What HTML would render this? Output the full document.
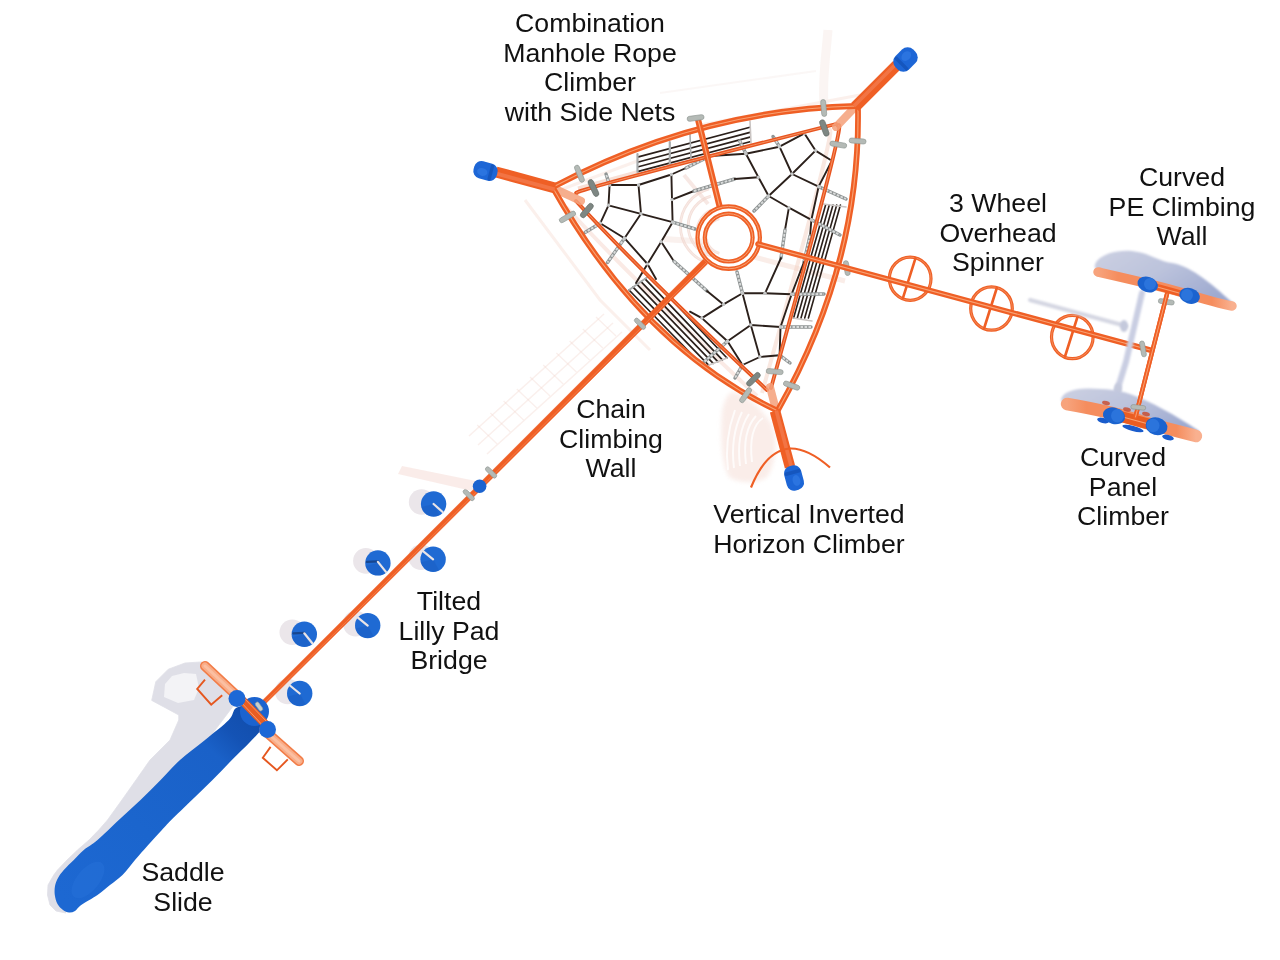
<!DOCTYPE html>
<html><head><meta charset="utf-8"><style>
html,body{margin:0;padding:0;background:#fff}
body{width:1280px;height:960px;position:relative;overflow:hidden}
svg{position:absolute;left:0;top:0}
.l{position:absolute;width:300px;will-change:transform;text-align:center;font-family:"Liberation Sans",sans-serif;font-size:26.7px;line-height:29.6px;color:#111}
</style></head><body>
<svg width="1280" height="960" viewBox="0 0 1280 960">
<defs>
<filter id="blur0" x="-20%" y="-20%" width="140%" height="140%"><feGaussianBlur stdDeviation="0.6"/></filter>
<filter id="blur1" x="-20%" y="-20%" width="140%" height="140%"><feGaussianBlur stdDeviation="1.2"/></filter>
<filter id="blur2" x="-20%" y="-20%" width="140%" height="140%"><feGaussianBlur stdDeviation="2"/></filter>
<linearGradient id="slideg" gradientUnits="userSpaceOnUse" x1="250" y1="715" x2="70" y2="905"><stop offset="0" stop-color="#124ead"/><stop offset="0.1" stop-color="#1453b5"/><stop offset="0.2" stop-color="#1a61c8"/><stop offset="0.6" stop-color="#1b65cd"/><stop offset="1" stop-color="#1d68d2"/></linearGradient>
<linearGradient id="wallsh" x1="0" y1="0" x2="1" y2="0.6"><stop offset="0" stop-color="#ccd0e2"/><stop offset="0.5" stop-color="#bcc3dc"/><stop offset="1" stop-color="#9eaad0"/></linearGradient>
<linearGradient id="wallg" x1="0" y1="0" x2="1" y2="0"><stop offset="0" stop-color="#f7a37c"/><stop offset="0.15" stop-color="#f58d5e"/><stop offset="0.85" stop-color="#f58d5e"/><stop offset="1" stop-color="#f9b08f"/></linearGradient>
</defs><path d="M525,200 L600,300 L650,350" fill="none" stroke="#f8e6e0" stroke-width="3" opacity="0.6"/>
<path d="M640,160 L560,190" fill="none" stroke="#f8e6e0" stroke-width="3" opacity="0.6"/>
<path d="M700,125 L860,95" fill="none" stroke="#f8e6e0" stroke-width="3" opacity="0.6"/>
<path d="M709.0,188.8 A38.5,38.5 0 0,0 709.0,263.2" fill="none" stroke="#eccbc1" stroke-width="2.8" opacity="0.6"/>
<path d="M709.0,188.8 A38.5,38.5 0 0,0 709.0,263.2" fill="none" stroke="#fbf1ee" stroke-width="0.8" opacity="0.8"/>
<path d="M711.0,196.1 A31,31 0 0,0 711.0,255.9" fill="none" stroke="#eccbc1" stroke-width="2.8" opacity="0.6"/>
<path d="M711.0,196.1 A31,31 0 0,0 711.0,255.9" fill="none" stroke="#fbf1ee" stroke-width="0.8" opacity="0.8"/>
<path d="M714.8,208.8 A24,24 0 0,0 714.8,255.2" fill="none" stroke="#eccbc1" stroke-width="2.8" opacity="0.6"/>
<path d="M714.8,208.8 A24,24 0 0,0 714.8,255.2" fill="none" stroke="#fbf1ee" stroke-width="0.8" opacity="0.8"/>
<path d="M719.3,218.6 A18,18 0 0,0 719.3,253.4" fill="none" stroke="#eccbc1" stroke-width="2.8" opacity="0.6"/>
<path d="M719.3,218.6 A18,18 0 0,0 719.3,253.4" fill="none" stroke="#fbf1ee" stroke-width="0.8" opacity="0.8"/>
<path d="M684,175 L708,204" stroke="#f0d3ca" stroke-width="4" opacity="0.5"/>
<path d="M664,239 L708,242" stroke="#f2d8d0" stroke-width="6" opacity="0.35"/>
<path d="M829,131 Q840,114 762,393" fill="none" stroke="#f2cbbd" stroke-width="4" opacity="0.45"/>
<path d="M754,257 L845,281" fill="none" stroke="#f2cbbd" stroke-width="5" opacity="0.35"/>
<path d="M566,207 Q632,279 757,396" fill="none" stroke="#f2cbbd" stroke-width="4" opacity="0.4"/>
<path d="M578,188.5 L640,171.5" fill="none" stroke="#f2cbbd" stroke-width="4" opacity="0.6"/>
<line x1="622" y1="332" x2="487" y2="454" stroke="#f1d3ca" stroke-width="1.5" opacity="0.35"/>
<line x1="613" y1="323" x2="478" y2="445" stroke="#f1d3ca" stroke-width="1.5" opacity="0.35"/>
<line x1="604" y1="314" x2="469" y2="436" stroke="#f1d3ca" stroke-width="1.5" opacity="0.35"/>
<line x1="616.0" y1="336" x2="596.0" y2="317" stroke="#f1d3ca" stroke-width="1.3" opacity="0.35"/>
<line x1="602.8" y1="348" x2="582.8" y2="329" stroke="#f1d3ca" stroke-width="1.3" opacity="0.35"/>
<line x1="589.6" y1="360" x2="569.6" y2="341" stroke="#f1d3ca" stroke-width="1.3" opacity="0.35"/>
<line x1="576.4" y1="372" x2="556.4" y2="353" stroke="#f1d3ca" stroke-width="1.3" opacity="0.35"/>
<line x1="563.2" y1="384" x2="543.2" y2="365" stroke="#f1d3ca" stroke-width="1.3" opacity="0.35"/>
<line x1="550.0" y1="396" x2="530.0" y2="377" stroke="#f1d3ca" stroke-width="1.3" opacity="0.35"/>
<line x1="536.8" y1="408" x2="516.8" y2="389" stroke="#f1d3ca" stroke-width="1.3" opacity="0.35"/>
<line x1="523.6" y1="420" x2="503.6" y2="401" stroke="#f1d3ca" stroke-width="1.3" opacity="0.35"/>
<line x1="510.4" y1="432" x2="490.4" y2="413" stroke="#f1d3ca" stroke-width="1.3" opacity="0.35"/>
<line x1="497.2" y1="444" x2="477.2" y2="425" stroke="#f1d3ca" stroke-width="1.3" opacity="0.35"/>
<path d="M828,30 C826,55 822,80 824,105" fill="none" stroke="#f8ebe7" stroke-width="9" opacity="0.5"/>
<path d="M660,93 L816,71" fill="none" stroke="#f6ebe8" stroke-width="2" opacity="0.4"/>
<path d="M733,392 C745,394 762,408 772,425 C778,440 776,462 768,476 C760,484 742,484 730,478 C722,468 720,440 722,412 C724,400 728,393 733,392 Z" fill="#f6dfd8" opacity="0.55" filter="url(#blur2)"/>
<path d="M728,470 Q724,440 735,410" fill="none" stroke="#ffffff" stroke-width="2" opacity="0.75"/>
<path d="M734,468 Q730,437 742,412" fill="none" stroke="#ffffff" stroke-width="2" opacity="0.75"/>
<path d="M740,466 Q736,434 749,414" fill="none" stroke="#ffffff" stroke-width="2" opacity="0.75"/>
<path d="M746,464 Q742,431 756,416" fill="none" stroke="#ffffff" stroke-width="2" opacity="0.75"/>
<path d="M752,462 Q748,428 763,418" fill="none" stroke="#ffffff" stroke-width="2" opacity="0.75"/>
<circle cx="421.6" cy="502" r="12.8" fill="#ebe6ea" filter="url(#blur0)"/>
<circle cx="421.1" cy="557.3" r="12.8" fill="#ebe6ea" filter="url(#blur0)"/>
<circle cx="365.9" cy="560.9" r="12.8" fill="#ebe6ea" filter="url(#blur0)"/>
<circle cx="355.7" cy="623.6" r="12.8" fill="#ebe6ea" filter="url(#blur0)"/>
<circle cx="292.3" cy="632.3" r="12.8" fill="#ebe6ea" filter="url(#blur0)"/>
<circle cx="287.7" cy="691.5" r="12.8" fill="#ebe6ea" filter="url(#blur0)"/>
<path d="M151.7,700.4 L155.8,681.7 L168.3,669.2 L185,663 L201.7,661.9 L222,685 L234,705 L200,750 L150,800 L100,845 L70,875 L62,905 L66,913 L56,911 L50,905 L47.5,895 L48,885 L53.75,875 L57.5,870 L67,860 L77.5,850 L89,840 L98.75,830 L107.5,820 L121.9,800 L136,780 L150,760 L170,740 L178.75,720 L178.75,715 Z" fill="#dfdfe7" stroke="#dfdfe7" stroke-width="0.8" stroke-linejoin="round"/>
<path d="M236.0,708.0 C232.5,710.3 233.9,714.7 228.8,720.0 C223.6,725.3 213.1,733.3 205.0,740.0 C196.9,746.7 187.4,753.3 180.0,760.0 C172.6,766.7 167.2,773.3 160.6,780.0 C154.0,786.7 147.5,793.3 140.5,800.0 C133.5,806.7 125.9,813.3 118.8,820.0 C111.6,826.7 103.3,835.0 97.5,840.0 C91.7,845.0 87.7,846.7 83.8,850.0 C79.8,853.3 77.1,856.7 73.8,860.0 C70.4,863.3 66.4,867.0 63.8,870.0 C61.1,873.0 59.5,875.3 58.0,878.0 C56.5,880.7 55.5,883.2 55.0,886.0 C54.5,888.8 54.4,892.0 54.8,895.0 C55.2,898.0 56.1,901.5 57.5,904.0 C58.9,906.5 61.1,908.6 63.0,910.0 C64.9,911.4 67.0,912.3 69.0,912.5 C71.0,912.7 73.0,912.2 75.0,911.0 C77.0,909.8 77.5,907.7 81.2,905.0 C85.0,902.3 92.7,898.3 97.5,895.0 C102.3,891.7 105.8,888.3 110.0,885.0 C114.2,881.7 118.3,879.2 122.5,875.0 C126.7,870.8 131.5,864.2 135.0,860.0 C138.5,855.8 140.8,853.3 143.8,850.0 C146.7,846.7 149.6,843.3 152.7,840.0 C155.7,836.7 158.8,833.3 161.9,830.0 C165.0,826.7 166.2,825.0 171.2,820.0 C176.2,815.0 185.0,806.7 191.9,800.0 C198.8,793.3 205.8,786.7 212.5,780.0 C219.2,773.3 225.7,766.3 231.9,760.0 C238.2,753.7 245.0,747.3 250.0,742.0 C255.0,736.7 260.0,732.3 262.0,728.0 C264.0,723.7 264.0,719.7 262.0,716.0 C260.0,712.3 254.3,707.3 250.0,706.0 C245.7,704.7 239.5,705.7 236.0,708.0 Z" fill="url(#slideg)"/>
<path d="M164,697 L165,684 L172,676 L184,673 L196,674 L199,688 L194,700 L178,703 Z" fill="#f3f3f6"/>
<ellipse cx="88" cy="880" rx="22" ry="11" transform="rotate(-50 88 880)" fill="#2a75dc" opacity="0.35"/>
<line x1="638.4" y1="156.9" x2="750.0" y2="127.3" stroke="#2b201b" stroke-width="1.7" stroke-linecap="round" opacity="1" />
<line x1="638.4" y1="162.0" x2="750.0" y2="132.4" stroke="#2b201b" stroke-width="1.7" stroke-linecap="round" opacity="1" />
<line x1="638.4" y1="166.7" x2="750.0" y2="137.1" stroke="#2b201b" stroke-width="1.7" stroke-linecap="round" opacity="1" />
<line x1="638.4" y1="171.4" x2="750.0" y2="141.8" stroke="#2b201b" stroke-width="1.7" stroke-linecap="round" opacity="1" />
<line x1="637.5" y1="154.0" x2="637.5" y2="172.0" stroke="#a9acad" stroke-width="2.2" stroke-linecap="round" opacity="1" />
<line x1="669.8" y1="142.0" x2="669.8" y2="166.0" stroke="#a9acad" stroke-width="2.2" stroke-linecap="round" opacity="1" />
<line x1="690.0" y1="134.0" x2="691.0" y2="159.0" stroke="#a9acad" stroke-width="1.6" stroke-linecap="round" opacity="1" />
<line x1="750.0" y1="121.0" x2="751.0" y2="143.0" stroke="#c9c4c2" stroke-width="1.6" stroke-linecap="round" opacity="1" />
<line x1="825.6" y1="205.0" x2="793.6" y2="318.0" stroke="#2b201b" stroke-width="1.6" stroke-linecap="round" opacity="1" />
<line x1="829.3" y1="205.0" x2="797.3" y2="318.0" stroke="#2b201b" stroke-width="1.6" stroke-linecap="round" opacity="1" />
<line x1="833.0" y1="205.0" x2="801.0" y2="318.0" stroke="#2b201b" stroke-width="1.6" stroke-linecap="round" opacity="1" />
<line x1="836.7" y1="205.0" x2="804.7" y2="318.0" stroke="#2b201b" stroke-width="1.6" stroke-linecap="round" opacity="1" />
<line x1="840.4" y1="205.0" x2="808.4" y2="318.0" stroke="#2b201b" stroke-width="1.6" stroke-linecap="round" opacity="1" />
<line x1="823.0" y1="204.0" x2="846.0" y2="207.0" stroke="#c9c4c2" stroke-width="1.6" stroke-linecap="round" opacity="1" />
<line x1="793.0" y1="318.0" x2="812.0" y2="321.0" stroke="#c9c4c2" stroke-width="1.6" stroke-linecap="round" opacity="1" />
<line x1="629.0" y1="290.0" x2="704.0" y2="367.0" stroke="#2b201b" stroke-width="1.7" stroke-linecap="round" opacity="1" />
<line x1="633.0" y1="287.2" x2="708.6" y2="365.2" stroke="#2b201b" stroke-width="1.7" stroke-linecap="round" opacity="1" />
<line x1="637.0" y1="284.4" x2="713.2" y2="363.4" stroke="#2b201b" stroke-width="1.7" stroke-linecap="round" opacity="1" />
<line x1="641.0" y1="281.6" x2="717.8" y2="361.6" stroke="#2b201b" stroke-width="1.7" stroke-linecap="round" opacity="1" />
<line x1="645.0" y1="278.8" x2="722.4" y2="359.8" stroke="#2b201b" stroke-width="1.7" stroke-linecap="round" opacity="1" />
<line x1="649.0" y1="276.0" x2="727.0" y2="358.0" stroke="#2b201b" stroke-width="1.7" stroke-linecap="round" opacity="1" />
<line x1="629.0" y1="290.0" x2="649.0" y2="276.0" stroke="#a9acad" stroke-width="2" stroke-linecap="round" opacity="1" />
<line x1="704.0" y1="367.0" x2="727.0" y2="358.0" stroke="#c9c4c2" stroke-width="1.6" stroke-linecap="round" opacity="1" />
<line x1="609.6" y1="185.0" x2="638.5" y2="185.0" stroke="#2b201b" stroke-width="1.9" stroke-linecap="round" opacity="1" />
<line x1="638.5" y1="185.0" x2="671.4" y2="174.5" stroke="#2b201b" stroke-width="1.9" stroke-linecap="round" opacity="1" />
<line x1="745.9" y1="153.8" x2="779.5" y2="146.7" stroke="#2b201b" stroke-width="1.9" stroke-linecap="round" opacity="1" />
<line x1="779.5" y1="146.7" x2="804.5" y2="133.4" stroke="#2b201b" stroke-width="1.9" stroke-linecap="round" opacity="1" />
<line x1="609.6" y1="185.0" x2="608.5" y2="205.3" stroke="#2b201b" stroke-width="1.9" stroke-linecap="round" opacity="1" />
<line x1="638.5" y1="185.0" x2="641.0" y2="213.8" stroke="#2b201b" stroke-width="1.9" stroke-linecap="round" opacity="1" />
<line x1="671.4" y1="174.5" x2="672.0" y2="199.6" stroke="#2b201b" stroke-width="1.9" stroke-linecap="round" opacity="1" />
<line x1="672.0" y1="199.6" x2="672.6" y2="222.2" stroke="#2b201b" stroke-width="1.9" stroke-linecap="round" opacity="1" />
<line x1="608.5" y1="205.3" x2="641.0" y2="213.8" stroke="#2b201b" stroke-width="1.9" stroke-linecap="round" opacity="1" />
<line x1="641.0" y1="213.8" x2="672.6" y2="222.2" stroke="#2b201b" stroke-width="1.9" stroke-linecap="round" opacity="1" />
<line x1="608.5" y1="205.3" x2="600.2" y2="223.3" stroke="#2b201b" stroke-width="1.9" stroke-linecap="round" opacity="1" />
<line x1="600.2" y1="223.3" x2="624.5" y2="238.2" stroke="#2b201b" stroke-width="1.9" stroke-linecap="round" opacity="1" />
<line x1="641.0" y1="213.8" x2="624.5" y2="238.2" stroke="#2b201b" stroke-width="1.9" stroke-linecap="round" opacity="1" />
<line x1="672.6" y1="222.2" x2="661.2" y2="241.8" stroke="#2b201b" stroke-width="1.9" stroke-linecap="round" opacity="1" />
<line x1="624.5" y1="238.2" x2="647.5" y2="264.0" stroke="#2b201b" stroke-width="1.9" stroke-linecap="round" opacity="1" />
<line x1="661.2" y1="241.8" x2="647.5" y2="264.0" stroke="#2b201b" stroke-width="1.9" stroke-linecap="round" opacity="1" />
<line x1="745.9" y1="153.8" x2="758.4" y2="177.2" stroke="#2b201b" stroke-width="1.9" stroke-linecap="round" opacity="1" />
<line x1="779.5" y1="146.7" x2="792.0" y2="174.0" stroke="#2b201b" stroke-width="1.9" stroke-linecap="round" opacity="1" />
<line x1="804.5" y1="133.4" x2="815.5" y2="150.6" stroke="#2b201b" stroke-width="1.9" stroke-linecap="round" opacity="1" />
<line x1="815.5" y1="150.6" x2="831.9" y2="160.8" stroke="#2b201b" stroke-width="1.9" stroke-linecap="round" opacity="1" />
<line x1="815.5" y1="150.6" x2="792.0" y2="174.0" stroke="#2b201b" stroke-width="1.9" stroke-linecap="round" opacity="1" />
<line x1="792.0" y1="174.0" x2="818.6" y2="186.6" stroke="#2b201b" stroke-width="1.9" stroke-linecap="round" opacity="1" />
<line x1="831.9" y1="160.8" x2="818.6" y2="186.6" stroke="#2b201b" stroke-width="1.9" stroke-linecap="round" opacity="1" />
<line x1="792.0" y1="174.0" x2="768.6" y2="196.0" stroke="#2b201b" stroke-width="1.9" stroke-linecap="round" opacity="1" />
<line x1="758.4" y1="177.2" x2="768.6" y2="196.0" stroke="#2b201b" stroke-width="1.9" stroke-linecap="round" opacity="1" />
<line x1="768.6" y1="196.0" x2="788.9" y2="207.7" stroke="#2b201b" stroke-width="1.9" stroke-linecap="round" opacity="1" />
<line x1="788.9" y1="207.7" x2="811.4" y2="219.8" stroke="#2b201b" stroke-width="1.9" stroke-linecap="round" opacity="1" />
<line x1="818.6" y1="186.6" x2="811.4" y2="219.8" stroke="#2b201b" stroke-width="1.9" stroke-linecap="round" opacity="1" />
<line x1="723.5" y1="304.4" x2="742.5" y2="293.3" stroke="#2b201b" stroke-width="1.9" stroke-linecap="round" opacity="1" />
<line x1="742.5" y1="293.3" x2="765.0" y2="293.3" stroke="#2b201b" stroke-width="1.9" stroke-linecap="round" opacity="1" />
<line x1="765.0" y1="293.3" x2="791.6" y2="294.3" stroke="#2b201b" stroke-width="1.9" stroke-linecap="round" opacity="1" />
<line x1="723.5" y1="304.4" x2="701.9" y2="318.1" stroke="#2b201b" stroke-width="1.9" stroke-linecap="round" opacity="1" />
<line x1="742.5" y1="293.3" x2="750.8" y2="325.0" stroke="#2b201b" stroke-width="1.9" stroke-linecap="round" opacity="1" />
<line x1="750.8" y1="325.0" x2="780.5" y2="327.0" stroke="#2b201b" stroke-width="1.9" stroke-linecap="round" opacity="1" />
<line x1="780.5" y1="327.0" x2="791.6" y2="294.3" stroke="#2b201b" stroke-width="1.9" stroke-linecap="round" opacity="1" />
<line x1="701.9" y1="318.1" x2="727.5" y2="341.2" stroke="#2b201b" stroke-width="1.9" stroke-linecap="round" opacity="1" />
<line x1="750.8" y1="325.0" x2="727.5" y2="341.2" stroke="#2b201b" stroke-width="1.9" stroke-linecap="round" opacity="1" />
<line x1="750.8" y1="325.0" x2="759.8" y2="357.0" stroke="#2b201b" stroke-width="1.9" stroke-linecap="round" opacity="1" />
<line x1="759.8" y1="357.0" x2="779.6" y2="355.2" stroke="#2b201b" stroke-width="1.9" stroke-linecap="round" opacity="1" />
<line x1="780.5" y1="327.0" x2="779.6" y2="355.2" stroke="#2b201b" stroke-width="1.9" stroke-linecap="round" opacity="1" />
<line x1="727.5" y1="341.2" x2="742.5" y2="365.0" stroke="#2b201b" stroke-width="1.9" stroke-linecap="round" opacity="1" />
<line x1="759.8" y1="357.0" x2="742.5" y2="365.0" stroke="#2b201b" stroke-width="1.9" stroke-linecap="round" opacity="1" />
<line x1="671.4" y1="174.5" x2="686.0" y2="168.0" stroke="#2b201b" stroke-width="1.9" stroke-linecap="round" opacity="1" />
<line x1="686.0" y1="168.0" x2="710.0" y2="156.0" stroke="#8f9494" stroke-width="3.4" stroke-linecap="round"/>
<line x1="686.0" y1="168.0" x2="710.0" y2="156.0" stroke="#d9dbdb" stroke-width="1.87" stroke-dasharray="2.6 1.4" stroke-linecap="butt"/>
<line x1="710.0" y1="156.0" x2="745.9" y2="153.8" stroke="#2b201b" stroke-width="1.9" stroke-linecap="round" opacity="1" />
<line x1="672.0" y1="199.6" x2="694.0" y2="191.0" stroke="#2b201b" stroke-width="1.9" stroke-linecap="round" opacity="1" />
<line x1="694.0" y1="191.0" x2="734.6" y2="179.0" stroke="#8f9494" stroke-width="3.4" stroke-linecap="round"/>
<line x1="694.0" y1="191.0" x2="734.6" y2="179.0" stroke="#d9dbdb" stroke-width="1.87" stroke-dasharray="2.6 1.4" stroke-linecap="butt"/>
<line x1="734.6" y1="179.0" x2="758.4" y2="177.2" stroke="#2b201b" stroke-width="1.9" stroke-linecap="round" opacity="1" />
<line x1="672.6" y1="222.2" x2="695.0" y2="229.0" stroke="#8f9494" stroke-width="3.4" stroke-linecap="round"/>
<line x1="672.6" y1="222.2" x2="695.0" y2="229.0" stroke="#d9dbdb" stroke-width="1.87" stroke-dasharray="2.6 1.4" stroke-linecap="butt"/>
<line x1="661.2" y1="241.8" x2="673.9" y2="261.2" stroke="#2b201b" stroke-width="1.9" stroke-linecap="round" opacity="1" />
<line x1="673.9" y1="261.2" x2="707.0" y2="291.0" stroke="#8f9494" stroke-width="3.4" stroke-linecap="round"/>
<line x1="673.9" y1="261.2" x2="707.0" y2="291.0" stroke="#d9dbdb" stroke-width="1.87" stroke-dasharray="2.6 1.4" stroke-linecap="butt"/>
<line x1="707.0" y1="291.0" x2="723.5" y2="304.4" stroke="#2b201b" stroke-width="1.9" stroke-linecap="round" opacity="1" />
<line x1="768.6" y1="196.0" x2="754.0" y2="211.0" stroke="#8f9494" stroke-width="3.4" stroke-linecap="round"/>
<line x1="768.6" y1="196.0" x2="754.0" y2="211.0" stroke="#d9dbdb" stroke-width="1.87" stroke-dasharray="2.6 1.4" stroke-linecap="butt"/>
<line x1="788.9" y1="207.7" x2="785.0" y2="230.0" stroke="#2b201b" stroke-width="1.9" stroke-linecap="round" opacity="1" />
<line x1="785.0" y1="230.0" x2="781.0" y2="258.0" stroke="#8f9494" stroke-width="3.4" stroke-linecap="round"/>
<line x1="785.0" y1="230.0" x2="781.0" y2="258.0" stroke="#d9dbdb" stroke-width="1.87" stroke-dasharray="2.6 1.4" stroke-linecap="butt"/>
<line x1="781.0" y1="258.0" x2="765.0" y2="293.3" stroke="#2b201b" stroke-width="1.9" stroke-linecap="round" opacity="1" />
<line x1="742.5" y1="293.3" x2="737.0" y2="272.0" stroke="#8f9494" stroke-width="3.4" stroke-linecap="round"/>
<line x1="742.5" y1="293.3" x2="737.0" y2="272.0" stroke="#d9dbdb" stroke-width="1.87" stroke-dasharray="2.6 1.4" stroke-linecap="butt"/>
<line x1="811.4" y1="219.8" x2="810.0" y2="236.0" stroke="#2b201b" stroke-width="1.9" stroke-linecap="round" opacity="1" />
<line x1="810.0" y1="236.0" x2="804.0" y2="262.0" stroke="#8f9494" stroke-width="3.4" stroke-linecap="round"/>
<line x1="810.0" y1="236.0" x2="804.0" y2="262.0" stroke="#d9dbdb" stroke-width="1.87" stroke-dasharray="2.6 1.4" stroke-linecap="butt"/>
<line x1="804.0" y1="262.0" x2="791.6" y2="294.3" stroke="#2b201b" stroke-width="1.9" stroke-linecap="round" opacity="1" />
<line x1="609.6" y1="185.0" x2="606.0" y2="174.0" stroke="#8f9494" stroke-width="3.4" stroke-linecap="round"/>
<line x1="609.6" y1="185.0" x2="606.0" y2="174.0" stroke="#d9dbdb" stroke-width="1.87" stroke-dasharray="2.6 1.4" stroke-linecap="butt"/>
<line x1="745.9" y1="153.8" x2="739.7" y2="141.0" stroke="#8f9494" stroke-width="3.4" stroke-linecap="round"/>
<line x1="745.9" y1="153.8" x2="739.7" y2="141.0" stroke="#d9dbdb" stroke-width="1.87" stroke-dasharray="2.6 1.4" stroke-linecap="butt"/>
<line x1="779.5" y1="146.7" x2="773.0" y2="136.5" stroke="#8f9494" stroke-width="3.4" stroke-linecap="round"/>
<line x1="779.5" y1="146.7" x2="773.0" y2="136.5" stroke="#d9dbdb" stroke-width="1.87" stroke-dasharray="2.6 1.4" stroke-linecap="butt"/>
<line x1="818.6" y1="186.6" x2="846.0" y2="199.0" stroke="#8f9494" stroke-width="3.4" stroke-linecap="round"/>
<line x1="818.6" y1="186.6" x2="846.0" y2="199.0" stroke="#d9dbdb" stroke-width="1.87" stroke-dasharray="2.6 1.4" stroke-linecap="butt"/>
<line x1="811.4" y1="219.8" x2="840.0" y2="235.0" stroke="#8f9494" stroke-width="3.4" stroke-linecap="round"/>
<line x1="811.4" y1="219.8" x2="840.0" y2="235.0" stroke="#d9dbdb" stroke-width="1.87" stroke-dasharray="2.6 1.4" stroke-linecap="butt"/>
<line x1="600.2" y1="223.3" x2="585.0" y2="232.5" stroke="#8f9494" stroke-width="3.4" stroke-linecap="round"/>
<line x1="600.2" y1="223.3" x2="585.0" y2="232.5" stroke="#d9dbdb" stroke-width="1.87" stroke-dasharray="2.6 1.4" stroke-linecap="butt"/>
<line x1="624.5" y1="238.2" x2="607.5" y2="262.5" stroke="#8f9494" stroke-width="3.4" stroke-linecap="round"/>
<line x1="624.5" y1="238.2" x2="607.5" y2="262.5" stroke="#d9dbdb" stroke-width="1.87" stroke-dasharray="2.6 1.4" stroke-linecap="butt"/>
<line x1="779.6" y1="355.2" x2="790.0" y2="363.0" stroke="#8f9494" stroke-width="3.4" stroke-linecap="round"/>
<line x1="779.6" y1="355.2" x2="790.0" y2="363.0" stroke="#d9dbdb" stroke-width="1.87" stroke-dasharray="2.6 1.4" stroke-linecap="butt"/>
<line x1="780.5" y1="327.0" x2="811.0" y2="327.0" stroke="#8f9494" stroke-width="3.4" stroke-linecap="round"/>
<line x1="780.5" y1="327.0" x2="811.0" y2="327.0" stroke="#d9dbdb" stroke-width="1.87" stroke-dasharray="2.6 1.4" stroke-linecap="butt"/>
<line x1="791.6" y1="294.3" x2="824.0" y2="294.0" stroke="#8f9494" stroke-width="3.4" stroke-linecap="round"/>
<line x1="791.6" y1="294.3" x2="824.0" y2="294.0" stroke="#d9dbdb" stroke-width="1.87" stroke-dasharray="2.6 1.4" stroke-linecap="butt"/>
<line x1="742.5" y1="365.0" x2="735.0" y2="378.0" stroke="#8f9494" stroke-width="3.4" stroke-linecap="round"/>
<line x1="742.5" y1="365.0" x2="735.0" y2="378.0" stroke="#d9dbdb" stroke-width="1.87" stroke-dasharray="2.6 1.4" stroke-linecap="butt"/>
<line x1="727.5" y1="341.2" x2="704.0" y2="362.0" stroke="#8f9494" stroke-width="3.4" stroke-linecap="round"/>
<line x1="727.5" y1="341.2" x2="704.0" y2="362.0" stroke="#d9dbdb" stroke-width="1.87" stroke-dasharray="2.6 1.4" stroke-linecap="butt"/>
<line x1="647.5" y1="264.0" x2="636.0" y2="283.0" stroke="#2b201b" stroke-width="1.9" stroke-linecap="round" opacity="1" />
<line x1="647.5" y1="264.0" x2="656.0" y2="279.0" stroke="#2b201b" stroke-width="1.9" stroke-linecap="round" opacity="1" />
<line x1="701.9" y1="318.1" x2="690.0" y2="311.7" stroke="#2b201b" stroke-width="1.9" stroke-linecap="round" opacity="1" />
<circle cx="609.6" cy="185" r="1.7" fill="#c3c5c5"/>
<circle cx="638.5" cy="185" r="1.7" fill="#c3c5c5"/>
<circle cx="671.4" cy="174.5" r="1.7" fill="#c3c5c5"/>
<circle cx="608.5" cy="205.3" r="1.7" fill="#c3c5c5"/>
<circle cx="641" cy="213.8" r="1.7" fill="#c3c5c5"/>
<circle cx="672" cy="199.6" r="1.7" fill="#c3c5c5"/>
<circle cx="672.6" cy="222.2" r="1.7" fill="#c3c5c5"/>
<circle cx="600.2" cy="223.3" r="1.7" fill="#c3c5c5"/>
<circle cx="624.5" cy="238.2" r="1.7" fill="#c3c5c5"/>
<circle cx="661.2" cy="241.8" r="1.7" fill="#c3c5c5"/>
<circle cx="745.9" cy="153.75" r="1.7" fill="#c3c5c5"/>
<circle cx="779.5" cy="146.7" r="1.7" fill="#c3c5c5"/>
<circle cx="804.5" cy="133.4" r="1.7" fill="#c3c5c5"/>
<circle cx="815.5" cy="150.6" r="1.7" fill="#c3c5c5"/>
<circle cx="831.9" cy="160.8" r="1.7" fill="#c3c5c5"/>
<circle cx="792" cy="174" r="1.7" fill="#c3c5c5"/>
<circle cx="758.4" cy="177.2" r="1.7" fill="#c3c5c5"/>
<circle cx="818.6" cy="186.6" r="1.7" fill="#c3c5c5"/>
<circle cx="768.6" cy="196" r="1.7" fill="#c3c5c5"/>
<circle cx="788.9" cy="207.7" r="1.7" fill="#c3c5c5"/>
<circle cx="811.4" cy="219.8" r="1.7" fill="#c3c5c5"/>
<circle cx="647.5" cy="264" r="1.7" fill="#c3c5c5"/>
<circle cx="723.5" cy="304.4" r="1.7" fill="#c3c5c5"/>
<circle cx="742.5" cy="293.3" r="1.7" fill="#c3c5c5"/>
<circle cx="765" cy="293.3" r="1.7" fill="#c3c5c5"/>
<circle cx="791.6" cy="294.3" r="1.7" fill="#c3c5c5"/>
<circle cx="701.9" cy="318.1" r="1.7" fill="#c3c5c5"/>
<circle cx="750.8" cy="325" r="1.7" fill="#c3c5c5"/>
<circle cx="780.5" cy="327" r="1.7" fill="#c3c5c5"/>
<circle cx="727.5" cy="341.2" r="1.7" fill="#c3c5c5"/>
<circle cx="759.8" cy="357" r="1.7" fill="#c3c5c5"/>
<circle cx="779.6" cy="355.2" r="1.7" fill="#c3c5c5"/>
<circle cx="742.5" cy="365" r="1.7" fill="#c3c5c5"/>
<path d="M577,193 Q560,194 836,124" fill="none" stroke="#e8541f" stroke-width="3.8" stroke-linecap="round" stroke-linejoin="round" opacity="1"/>
<path d="M577,193 Q560,194 836,124" fill="none" stroke="#f8a274" stroke-width="0.8" stroke-linecap="round" stroke-linejoin="round" opacity="1"/>
<path d="M838,126 Q849,109 771,388" fill="none" stroke="#e8541f" stroke-width="3.8" stroke-linecap="round" stroke-linejoin="round" opacity="1"/>
<path d="M838,126 Q849,109 771,388" fill="none" stroke="#f8a274" stroke-width="0.8" stroke-linecap="round" stroke-linejoin="round" opacity="1"/>
<path d="M576,201 Q642,273 767,390" fill="none" stroke="#e8541f" stroke-width="3.8" stroke-linecap="round" stroke-linejoin="round" opacity="1"/>
<path d="M576,201 Q642,273 767,390" fill="none" stroke="#f8a274" stroke-width="0.8" stroke-linecap="round" stroke-linejoin="round" opacity="1"/>
<line x1="553.0" y1="188.0" x2="581.0" y2="201.0" stroke="#f5a07a" stroke-width="8" stroke-linecap="round" opacity="0.85" />
<line x1="856.0" y1="106.0" x2="836.0" y2="127.0" stroke="#f5a07a" stroke-width="8" stroke-linecap="round" opacity="0.85" />
<line x1="776.0" y1="410.0" x2="770.0" y2="387.0" stroke="#f5a07a" stroke-width="8" stroke-linecap="round" opacity="0.85" />
<path d="M553,187 Q698,110 856,106" fill="none" stroke="#ef5f25" stroke-width="5.8" stroke-linecap="round" stroke-linejoin="round" opacity="1"/>
<path d="M553,187 Q698,110 856,106" fill="none" stroke="#f8a274" stroke-width="1.1" stroke-linecap="round" stroke-linejoin="round" opacity="1"/>
<path d="M858,110 Q860,265 778,410" fill="none" stroke="#ef5f25" stroke-width="5.8" stroke-linecap="round" stroke-linejoin="round" opacity="1"/>
<path d="M858,110 Q860,265 778,410" fill="none" stroke="#f8a274" stroke-width="1.1" stroke-linecap="round" stroke-linejoin="round" opacity="1"/>
<path d="M553,188 Q642,346 776,410" fill="none" stroke="#ef5f25" stroke-width="5.8" stroke-linecap="round" stroke-linejoin="round" opacity="1"/>
<path d="M553,188 Q642,346 776,410" fill="none" stroke="#f8a274" stroke-width="1.1" stroke-linecap="round" stroke-linejoin="round" opacity="1"/>
<path d="M698.4,121 L719.5,206" fill="none" stroke="#ef5f25" stroke-width="6.2" stroke-linecap="round" stroke-linejoin="round" opacity="1"/>
<path d="M698.4,121 L719.5,206" fill="none" stroke="#f8a274" stroke-width="1.1" stroke-linecap="round" stroke-linejoin="round" opacity="1"/>
<path d="M703.3,259.3 L707.7,263.7 L347.8,622.3 L264.6,704.8 L261.4,701.4 L344.2,618.7 Z" fill="#ef5f25" stroke="#ef5f25" stroke-width="0.4"/>
<path d="M706.5,262.5 L346.6,621.4 L263.6,703.6" fill="none" stroke="#f37b48" stroke-width="1"/>
<circle cx="728.7" cy="237.6" r="31.2" fill="none" stroke="#ef5f25" stroke-width="4.2"/>
<circle cx="728.7" cy="237.6" r="31.2" fill="none" stroke="#f8a274" stroke-width="1"/>
<circle cx="728.7" cy="237.6" r="23.9" fill="none" stroke="#ef5f25" stroke-width="4.2"/>
<circle cx="728.7" cy="237.6" r="23.9" fill="none" stroke="#f8a274" stroke-width="1"/>
<path d="M556.4,182.7 L497.4,166.7 L494.6,177.3 L553.6,193.3 Z" fill="#ef5f25"/>
<path d="M554.6,189.3 L495.6,173.3" stroke="#f27444" stroke-width="3.8"/>
<path d="M858.9,110.9 L900.9,68.9 L893.1,61.1 L851.1,103.1 Z" fill="#ef5f25"/>
<path d="M854.0,106.0 L896.0,64.0" stroke="#f27444" stroke-width="3.8"/>
<path d="M769.9,412.4 L784.9,468.4 L795.1,465.6 L780.1,409.6 Z" fill="#ef5f25"/>
<path d="M776.3,410.7 L791.3,466.7" stroke="#f27444" stroke-width="3.7"/>
<g transform="rotate(195 485.5 171)"><rect x="473.5" y="162.25" width="24" height="17.5" rx="7.35" fill="#1d66d6"/><rect x="478.3" y="162.75" width="3.3600000000000003" height="16.5" rx="1.5" fill="#1452b8" opacity="0.8"/><ellipse cx="488.38" cy="169.25" rx="5.28" ry="3.85" fill="#3a82ea" opacity="0.5"/></g>
<g transform="rotate(-45 905.5 59.5)"><rect x="893.0" y="50.0" width="25" height="19" rx="7.9799999999999995" fill="#1d66d6"/><rect x="898.0" y="50.5" width="3.5000000000000004" height="18" rx="1.5" fill="#1452b8" opacity="0.8"/><ellipse cx="908.5" cy="57.6" rx="5.5" ry="4.18" fill="#3a82ea" opacity="0.5"/></g>
<g transform="rotate(75 794 478)"><rect x="781.5" y="469.25" width="25" height="17.5" rx="7.35" fill="#1d66d6"/><rect x="786.5" y="469.75" width="3.5000000000000004" height="16.5" rx="1.5" fill="#1452b8" opacity="0.8"/><ellipse cx="797.0" cy="476.25" rx="5.5" ry="3.85" fill="#3a82ea" opacity="0.5"/></g>
<path d="M751,487.5 C760,465 772,450 790,448.5 C805,448 818,457 830,467.5" fill="none" stroke="#ef5f25" stroke-width="2.2"/>
<rect x="687.1" y="115.5" width="17" height="5" rx="2.5" fill="#b4bab6" stroke="#8c9490" stroke-width="0.6" transform="rotate(-8 695.6 118)"/>
<rect x="570.4" y="171.2" width="18" height="5" rx="2.5" fill="#b4bab6" stroke="#8c9490" stroke-width="0.6" transform="rotate(68 579.4 173.75)"/>
<rect x="584.4" y="185.2" width="18" height="5.5" rx="2.75" fill="#7e8783" stroke="#5f6864" stroke-width="0.6" transform="rotate(65 593.4 188)"/>
<rect x="578.4" y="207.8" width="17" height="5.5" rx="2.75" fill="#7e8783" stroke="#5f6864" stroke-width="0.6" transform="rotate(-50 586.9 210.6)"/>
<rect x="558.5" y="214.4" width="18" height="5" rx="2.5" fill="#b4bab6" stroke="#8c9490" stroke-width="0.6" transform="rotate(-30 567.5 216.9)"/>
<rect x="815.2" y="105.5" width="17" height="5" rx="2.5" fill="#b4bab6" stroke="#8c9490" stroke-width="0.6" transform="rotate(85 823.7 108)"/>
<rect x="815.8" y="125.2" width="17" height="5.5" rx="2.75" fill="#7e8783" stroke="#5f6864" stroke-width="0.6" transform="rotate(70 824.3 128)"/>
<rect x="829.8" y="142.1" width="17" height="5" rx="2.5" fill="#b4bab6" stroke="#8c9490" stroke-width="0.6" transform="rotate(10 838.3 144.6)"/>
<rect x="849.1" y="138.5" width="17" height="5" rx="2.5" fill="#b4bab6" stroke="#8c9490" stroke-width="0.6" transform="rotate(5 857.6 141)"/>
<rect x="766.2" y="369.1" width="17" height="5" rx="2.5" fill="#b4bab6" stroke="#8c9490" stroke-width="0.6" transform="rotate(5 774.7 371.6)"/>
<rect x="783.1" y="383.1" width="17" height="5" rx="2.5" fill="#b4bab6" stroke="#8c9490" stroke-width="0.6" transform="rotate(20 791.6 385.6)"/>
<rect x="744.9" y="376.6" width="17" height="5.5" rx="2.75" fill="#7e8783" stroke="#5f6864" stroke-width="0.6" transform="rotate(-45 753.4 379.3)"/>
<rect x="737.1" y="392.7" width="17" height="5" rx="2.5" fill="#b4bab6" stroke="#8c9490" stroke-width="0.6" transform="rotate(-55 745.6 395.2)"/>
<rect x="839.3" y="265.6" width="15" height="5" rx="2.5" fill="#b4bab6" stroke="#8c9490" stroke-width="0.6" transform="rotate(80 846.8 268.1)"/>
<rect x="633.0" y="321.5" width="14" height="4.5" rx="2.25" fill="#b4bab6" stroke="#8c9490" stroke-width="0.6" transform="rotate(45 640 323.75)"/>
<rect x="484.0" y="470.2" width="14" height="4.5" rx="2.25" fill="#b4bab6" stroke="#8c9490" stroke-width="0.6" transform="rotate(45 491 472.5)"/>
<rect x="461.8" y="492.8" width="14" height="4.5" rx="2.25" fill="#b4bab6" stroke="#8c9490" stroke-width="0.6" transform="rotate(45 468.75 495)"/>
<ellipse cx="910.2" cy="278.7" rx="20.8" ry="21.6" fill="none" stroke="#ef5f25" stroke-width="3.2"/>
<ellipse cx="910.2" cy="278.7" rx="20.8" ry="21.6" fill="none" stroke="#f8a274" stroke-width="0.8" opacity="0.8"/>
<line x1="915.5" y1="258.2" x2="902.9" y2="298.2" stroke="#ef5f25" stroke-width="2.6" stroke-linecap="round" opacity="1" />
<ellipse cx="991.5" cy="308.5" rx="20.8" ry="21.6" fill="none" stroke="#ef5f25" stroke-width="3.2"/>
<ellipse cx="991.5" cy="308.5" rx="20.8" ry="21.6" fill="none" stroke="#f8a274" stroke-width="0.8" opacity="0.8"/>
<line x1="996.8" y1="288.0" x2="984.2" y2="328.0" stroke="#ef5f25" stroke-width="2.6" stroke-linecap="round" opacity="1" />
<ellipse cx="1072.3" cy="337" rx="20.8" ry="21.6" fill="none" stroke="#ef5f25" stroke-width="3.2"/>
<ellipse cx="1072.3" cy="337" rx="20.8" ry="21.6" fill="none" stroke="#f8a274" stroke-width="0.8" opacity="0.8"/>
<line x1="1077.6" y1="316.5" x2="1065.0" y2="356.5" stroke="#ef5f25" stroke-width="2.6" stroke-linecap="round" opacity="1" />
<path d="M758,244 L1150,350" fill="none" stroke="#ef5f25" stroke-width="5.6" stroke-linecap="round" stroke-linejoin="round" opacity="1"/>
<path d="M758,244 L1150,350" fill="none" stroke="#f8a274" stroke-width="1.1" stroke-linecap="round" stroke-linejoin="round" opacity="1"/>
<path d="M1142,293 L1126,362 L1117,391" fill="none" stroke="#c9cee2" stroke-width="6" stroke-linecap="round" filter="url(#blur1)"/>
<path d="M1030,300 L1126,326" fill="none" stroke="#d4d6e2" stroke-width="4" stroke-linecap="round" filter="url(#blur1)"/>
<ellipse cx="1124" cy="326" rx="4" ry="6" fill="#c4c9dc" filter="url(#blur1)"/>
<ellipse cx="1118" cy="389" rx="4" ry="6" fill="#c4c9dc" filter="url(#blur1)"/>
<path d="M1095,268 C1093,258 1112,249 1132,251 C1150,253 1160,262 1172,263 C1192,266 1215,287 1234,304 L1232,306 C1200,296 1160,284 1098,272 Z" fill="url(#wallsh)" filter="url(#blur1)"/>
<path d="M1098,272 C1120,277 1160,286 1180,292 C1200,298 1220,304 1232,306" fill="none" stroke="url(#wallg)" stroke-width="9.5" stroke-linecap="round"/>
<path d="M1061,400 C1062,392 1075,388 1090,388.6 C1105,389 1118,390 1130,394 C1150,401 1175,415 1199,431 L1198,434 C1160,422 1110,410 1064,404 Z" fill="url(#wallsh)" filter="url(#blur1)"/>
<path d="M1067,404 C1090,408 1120,414 1143,422 C1165,428 1183,432.5 1196,436" fill="none" stroke="url(#wallg)" stroke-width="12.5" stroke-linecap="round"/>
<ellipse cx="1103" cy="420.5" rx="6" ry="2.6" transform="rotate(15 1103 420.5)" fill="#1a5ccc"/>
<ellipse cx="1133" cy="428.5" rx="11" ry="2.6" transform="rotate(15 1133 428.5)" fill="#1a5ccc"/>
<ellipse cx="1168" cy="437.5" rx="6" ry="2.6" transform="rotate(15 1168 437.5)" fill="#1a5ccc"/>
<ellipse cx="1106" cy="403" rx="4" ry="2" transform="rotate(15 1106 403)" fill="#c8482a" opacity="0.8"/>
<ellipse cx="1127" cy="409.5" rx="4" ry="2" transform="rotate(15 1127 409.5)" fill="#c8482a" opacity="0.8"/>
<ellipse cx="1146" cy="414" rx="4" ry="2" transform="rotate(15 1146 414)" fill="#c8482a" opacity="0.8"/>
<path d="M1167,294 L1135.7,416" fill="none" stroke="#ef5f25" stroke-width="4.4" stroke-linecap="round" stroke-linejoin="round" opacity="1"/>
<path d="M1167,294 L1135.7,416" fill="none" stroke="#f8a274" stroke-width="1" stroke-linecap="round" stroke-linejoin="round" opacity="1"/>
<path d="M1150,285 L1190,296" fill="none" stroke="#ef5f25" stroke-width="6" stroke-linecap="round" stroke-linejoin="round" opacity="1"/>
<path d="M1150,285 L1190,296" fill="none" stroke="#f8a274" stroke-width="1.2" stroke-linecap="round" stroke-linejoin="round" opacity="1"/>
<ellipse cx="1147.7" cy="284.5" rx="10.5" ry="7.6" transform="rotate(18 1147.7 284.5)" fill="#1b63cf"/>
<ellipse cx="1150" cy="284" rx="6" ry="6" fill="#2b74dc"/>
<ellipse cx="1189.6" cy="295.8" rx="10.5" ry="7.8" transform="rotate(18 1189.6 295.8)" fill="#1b63cf"/>
<ellipse cx="1187" cy="295" rx="6" ry="6" fill="#2b74dc"/>
<rect x="1158.3" y="299.4" width="16" height="4.8" rx="2.4" fill="#b4bab6" stroke="#8c9490" stroke-width="0.6" transform="rotate(8 1166.3 301.75)"/>
<rect x="1135.0" y="346.5" width="16" height="4.8" rx="2.4" fill="#b4bab6" stroke="#8c9490" stroke-width="0.6" transform="rotate(80 1143 348.9)"/>
<path d="M1119,416 L1156,426" fill="none" stroke="#e85d22" stroke-width="11" stroke-linecap="round" stroke-linejoin="round" opacity="1"/>
<path d="M1119,416 L1156,426" fill="none" stroke="#f8a274" stroke-width="1.2" stroke-linecap="round" stroke-linejoin="round" opacity="1"/>
<path d="M1167,294 L1135.5,417" fill="none" stroke="#ef5f25" stroke-width="4.4" stroke-linecap="round" stroke-linejoin="round" opacity="1"/>
<path d="M1167,294 L1135.5,417" fill="none" stroke="#f8a274" stroke-width="1" stroke-linecap="round" stroke-linejoin="round" opacity="1"/>
<ellipse cx="1114" cy="415.8" rx="11.3" ry="8.2" transform="rotate(15 1114 415.8)" fill="#1b63cf"/>
<ellipse cx="1117.5" cy="415.8" rx="6.5" ry="6.8" fill="#2b74dc"/>
<ellipse cx="1156.5" cy="426.3" rx="11" ry="8.8" transform="rotate(15 1156.5 426.3)" fill="#1b63cf"/>
<ellipse cx="1153" cy="425.5" rx="6.5" ry="6.8" fill="#2b74dc"/>
<rect x="1130.8" y="405.1" width="15" height="4.5" rx="2.25" fill="#b4bab6" stroke="#8c9490" stroke-width="0.6" transform="rotate(6 1138.3 407.4)"/>
<circle cx="433.6" cy="504" r="12.7" fill="#1f6ad3"/>
<path d="M421.6,507 A12.7,12.7 0 0,0 439.6,515 L433.6,504 Z" fill="#1a5fc4" opacity="0.6"/>
<line x1="433.6" y1="504.0" x2="442.6" y2="512.0" stroke="#e9e4e6" stroke-width="2.2" stroke-linecap="round" opacity="1" />
<circle cx="433.1" cy="559.3" r="12.7" fill="#1f6ad3"/>
<path d="M421.1,562.3 A12.7,12.7 0 0,0 439.1,570.3 L433.1,559.3 Z" fill="#1a5fc4" opacity="0.6"/>
<line x1="422.1" y1="550.3" x2="433.1" y2="559.3" stroke="#e9e4e6" stroke-width="2.2" stroke-linecap="round" opacity="1" />
<circle cx="377.9" cy="562.9" r="12.7" fill="#1f6ad3"/>
<path d="M365.9,565.9 A12.7,12.7 0 0,0 383.9,573.9 L377.9,562.9 Z" fill="#1a5fc4" opacity="0.6"/>
<line x1="366.9" y1="561.9" x2="377.9" y2="561.4" stroke="#17468f" stroke-width="2.2" stroke-linecap="round" opacity="1" />
<line x1="377.9" y1="561.9" x2="385.9" y2="571.9" stroke="#e9e4e6" stroke-width="2.2" stroke-linecap="round" opacity="1" />
<circle cx="367.7" cy="625.6" r="12.7" fill="#1f6ad3"/>
<path d="M355.7,628.6 A12.7,12.7 0 0,0 373.7,636.6 L367.7,625.6 Z" fill="#1a5fc4" opacity="0.6"/>
<line x1="356.7" y1="616.6" x2="367.7" y2="625.6" stroke="#e9e4e6" stroke-width="2.2" stroke-linecap="round" opacity="1" />
<circle cx="304.3" cy="634.3" r="12.7" fill="#1f6ad3"/>
<path d="M292.3,637.3 A12.7,12.7 0 0,0 310.3,645.3 L304.3,634.3 Z" fill="#1a5fc4" opacity="0.6"/>
<line x1="293.3" y1="633.3" x2="304.3" y2="632.8" stroke="#17468f" stroke-width="2.2" stroke-linecap="round" opacity="1" />
<line x1="304.3" y1="633.3" x2="312.3" y2="643.3" stroke="#e9e4e6" stroke-width="2.2" stroke-linecap="round" opacity="1" />
<circle cx="299.7" cy="693.5" r="12.7" fill="#1f6ad3"/>
<path d="M287.7,696.5 A12.7,12.7 0 0,0 305.7,704.5 L299.7,693.5 Z" fill="#1a5fc4" opacity="0.6"/>
<line x1="288.7" y1="684.5" x2="299.7" y2="693.5" stroke="#e9e4e6" stroke-width="2.2" stroke-linecap="round" opacity="1" />
<path d="M476,481 L402,466 L398,474 L472,491 Z" fill="#f6e0da" opacity="0.6"/>
<circle cx="479.6" cy="486.3" r="6.8" fill="#1b63cf"/>
<line x1="205" y1="666" x2="236" y2="695" stroke="#f27d48" stroke-width="10" stroke-linecap="round"/>
<line x1="205" y1="666" x2="236" y2="695" stroke="#f9ad88" stroke-width="7" stroke-linecap="round"/>
<line x1="205" y1="666" x2="236" y2="695" stroke="#fcc8ad" stroke-width="3" stroke-linecap="round" opacity="0.7"/>
<line x1="264" y1="730" x2="299" y2="761" stroke="#f27d48" stroke-width="10" stroke-linecap="round"/>
<line x1="264" y1="730" x2="299" y2="761" stroke="#f9ad88" stroke-width="7" stroke-linecap="round"/>
<line x1="264" y1="730" x2="299" y2="761" stroke="#fcc8ad" stroke-width="3" stroke-linecap="round" opacity="0.7"/>
<path d="M205,679.7 L197.2,689 L211.2,704.7 L222.2,695.3" fill="none" stroke="#e5571f" stroke-width="1.9"/>
<path d="M270.6,746.9 L262.8,757.8 L276.9,770.3 L287.8,759.4" fill="none" stroke="#e5571f" stroke-width="1.9"/>
<circle cx="254.5" cy="711.5" r="14.5" fill="#1b63cf"/>
<path d="M241,699 L268,727" stroke="#e85d22" stroke-width="8.5"/>
<path d="M240,701 L266,729" stroke="#f59a70" stroke-width="1"/>
<path d="M243,697 L269,724" stroke="#f59a70" stroke-width="1"/>
<circle cx="237" cy="698.5" r="8.5" fill="#1d68d6"/>
<circle cx="267.5" cy="729.5" r="8.5" fill="#1d68d6"/>
<rect x="254.0" y="704.5" width="10" height="4" rx="2.0" fill="#c9cfcb" stroke="#98a09c" stroke-width="0.6" transform="rotate(55 259 706.5)"/>
</svg>
<div class="l" style="left:439.7px;top:9.0px">Combination<br>Manhole Rope<br>Climber<br>with Side Nets</div>
<div class="l" style="left:848.4px;top:188.6px">3 Wheel<br>Overhead<br>Spinner</div>
<div class="l" style="left:1032.0px;top:163.3px">Curved<br>PE Climbing<br>Wall</div>
<div class="l" style="left:461.2px;top:395.4px">Chain<br>Climbing<br>Wall</div>
<div class="l" style="left:659.2px;top:500.1px">Vertical Inverted<br>Horizon Climber</div>
<div class="l" style="left:972.9px;top:442.7px">Curved<br>Panel<br>Climber</div>
<div class="l" style="left:299.0px;top:586.5px">Tilted<br>Lilly Pad<br>Bridge</div>
<div class="l" style="left:32.8px;top:858.1px">Saddle<br>Slide</div>
</body></html>
